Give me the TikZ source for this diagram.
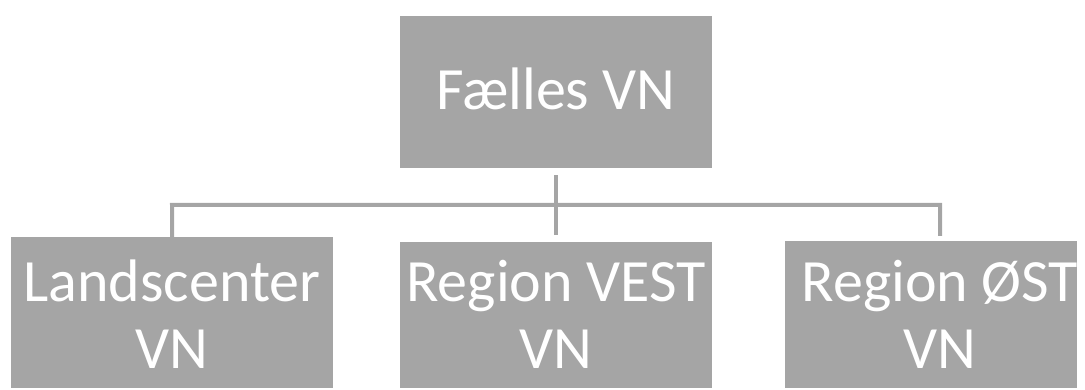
\documentclass[tikz,border=0pt]{standalone}
\usepackage{fontspec}
\setmainfont{Carlito}
\definecolor{boxgray}{HTML}{A5A5A5}
\begin{document}
\begin{tikzpicture}[x=1pt,y=-1pt,
  unit/.style={draw=none,fill=boxgray,inner sep=0pt,anchor=north west},
  caption/.style={text=white,font=\fontsize{60}{67}\selectfont,align=center,inner sep=0pt,anchor=base},
  link/.style={draw=boxgray,line width=4pt,line join=miter}]
\useasboundingbox (0,0) rectangle (1085,390);

% boxes
\node[unit,minimum width=312pt,minimum height=152pt] (top) at (400,16) {};
\node[unit,minimum width=322pt,minimum height=151pt] (left) at (11,237) {};
\node[unit,minimum width=312pt,minimum height=146pt] (mid) at (400,242) {};
\node[unit,minimum width=292pt,minimum height=147pt] (right) at (785,241) {};

% labels (base anchor sits on the last line)
\node[caption] (toptext) at (556,110) {Fælles VN};
\node[caption] (lefttext) at (172,368) {Landscenter\\VN};
\node[caption] (midtext) at (556,368) {Region VEST\\VN};
\node[caption] (righttext) at (940,368) {Region ØST\\VN};

% connectors
\coordinate (ljoin) at (172,205);
\coordinate (rjoin) at (940,205);
\draw[link] (left.north) -- (ljoin) -- (rjoin) -- ([yshift=-31pt]rjoin);
\draw[link] ([yshift=-7pt]top.south) -- ([yshift=7pt]mid.north);
\end{tikzpicture}
\end{document}
